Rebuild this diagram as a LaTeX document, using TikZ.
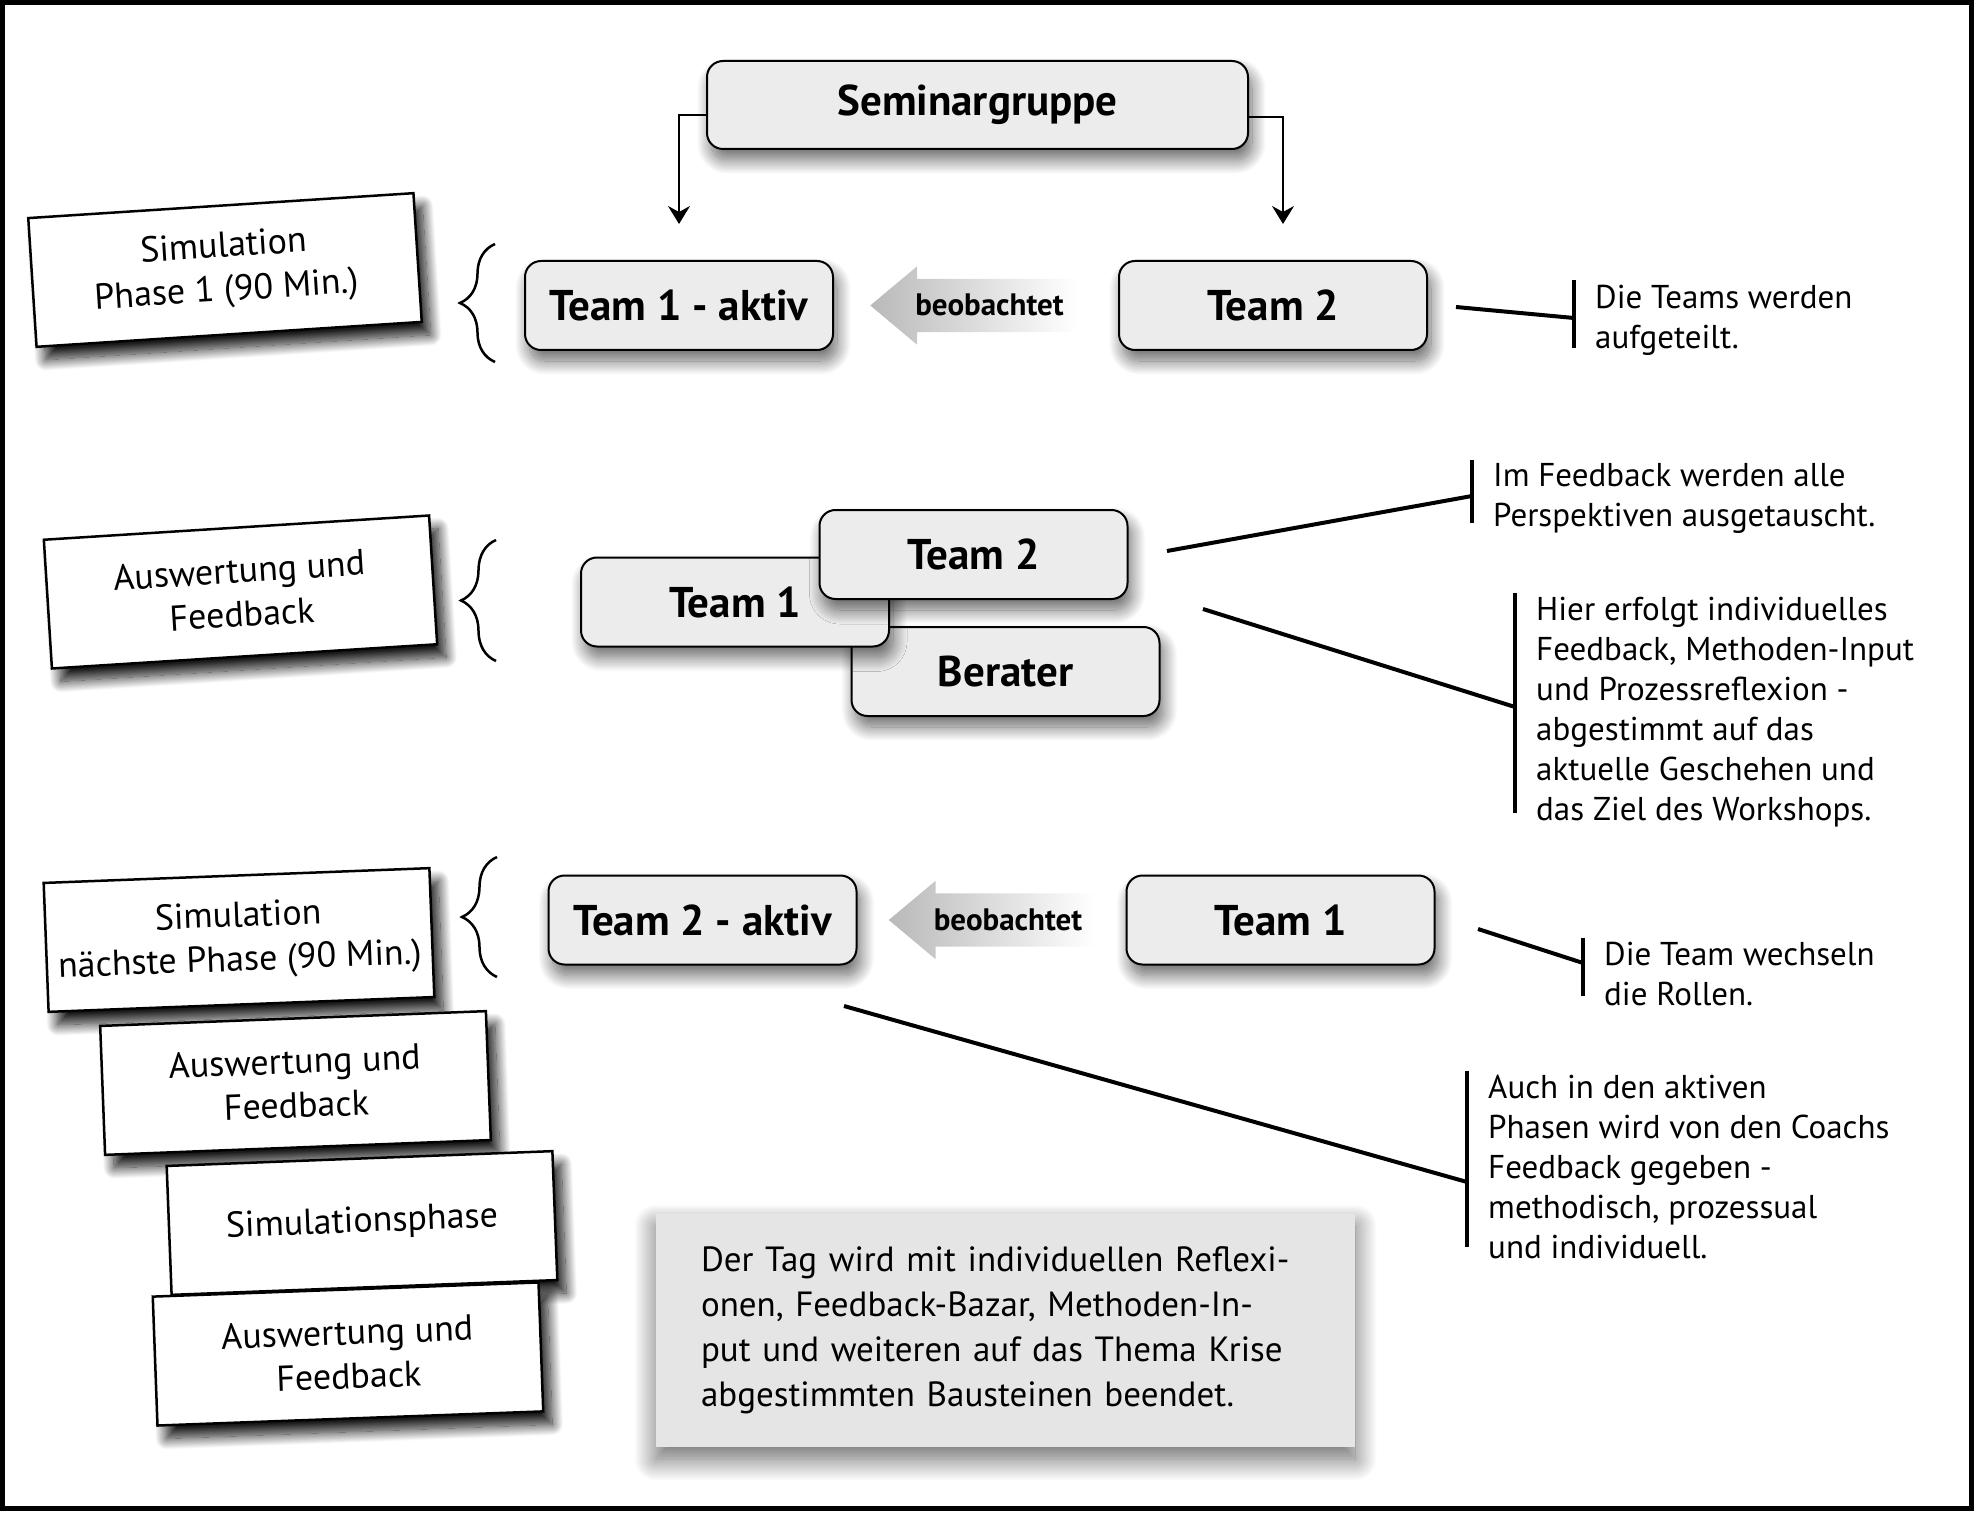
\documentclass[tikz,border=0pt]{standalone}
\usepackage{fontspec}
\setmainfont{PT Sans}
\usepackage{tikz}
\usetikzlibrary{positioning,arrows.meta,shapes.arrows,decorations.pathreplacing,shadows.blur}

\tikzset{
  teambox/.style={draw, line width=2pt, rounded corners=16pt, fill=gray!15,
    minimum width=308pt, minimum height=89pt, inner sep=0pt,
    font=\fontsize{43}{50}\selectfont\bfseries,
    blur shadow={shadow xshift=4pt, shadow yshift=-11pt, shadow blur radius=14pt, shadow opacity=60, shadow blur steps=20}},
  phasebox/.style={draw, line width=2.5pt, fill=white, align=center,
    minimum width=386pt, minimum height=129pt,
    font=\fontsize{36}{44}\selectfont,
    blur shadow={shadow xshift=9pt, shadow yshift=-13pt, shadow blur radius=11pt, shadow opacity=90, shadow blur steps=20}},
  obsarrow/.style={single arrow, shape border rotate=180, single arrow tip angle=80,
    single arrow head extend=12.5pt, left color=gray!55, middle color=gray!45, right color=white,
    inner xsep=13pt, inner ysep=16.5pt, text height=20pt, text depth=0pt,
    font=\fontsize{31}{36}\selectfont\bfseries},
  note/.style={align=left, anchor=north west, inner xsep=21pt, inner ysep=0pt,
    font=\fontsize{33}{40}\selectfont},
  finalbox/.style={fill=gray!20, text width=609pt, inner xsep=45pt, align=left,
    minimum height=233pt, font=\fontsize{35}{45}\selectfont,
    blur shadow={shadow xshift=0pt, shadow yshift=-12pt, shadow blur radius=22pt, shadow opacity=60, shadow blur steps=30}},
  link/.style={line width=4pt},
  bar/.style={line width=3.5pt},
  curly/.style={decorate, decoration={brace, amplitude=35pt}, line width=2.5pt},
}

\begin{document}
\begin{tikzpicture}[x=1pt,y=-1pt]
    \useasboundingbox (0,0) rectangle (1979,1514);
    \draw[line width=5pt] (2.5,2.5) rectangle (1971.5,1508.5);

    % first simulation phase
    \node[teambox, minimum width=541pt, minimum height=88pt] (sem) at (977.5,105) {Seminargruppe};
    \node[teambox] (t1a) at (679,305.5) {Team 1 - aktiv};
    \node[teambox] (t2b) [right=284pt of t1a] {Team 2};
    \node[obsarrow, anchor=tip] (obs1) at ([xshift=36pt]t1a.east) {beobachtet};
    \path[draw, line width=1.5pt, -{Stealth[length=18pt,width=22pt,inset=6pt]}, shorten >=36pt]
        ([yshift=-10pt]sem.west) -| (t1a.north);
    \path[draw, line width=1.5pt, -{Stealth[length=18pt,width=22pt,inset=6pt]}, shorten >=36pt]
        ([yshift=-12pt]sem.east) -| ([xshift=10pt]t2b.north);
    \node[phasebox, rotate=3.7] (sim1) at (225,270) {Simulation\\Phase 1 (90 Min.)};
    \draw[curly] (495,362) -- (495,244);

    % feedback
    \node[teambox] (ber) at (1005.5,671.5) {Berater};
    \node[teambox] (m1) at (735,602) {Team 1};
    \node[teambox] (m2) at (973.5,554.5) {Team 2};
    \node[phasebox, rotate=3.6] (aus1) at (240.5,592) {Auswertung und\\Feedback};
    \draw[curly] (496,661) -- (496,540);

    % next phases
    \node[teambox] (t2a) at (702.5,920) {Team 2 - aktiv};
    \node[teambox] (t1b) [right=268pt of t2a] {Team 1};
    \node[obsarrow, anchor=tip] (obs2) at ([xshift=31pt]t2a.east) {beobachtet};
    \node[phasebox, rotate=2.2] (sim2) at (239,940) {Simulation\\nächste Phase (90 Min.)};
    \draw[curly] (497,977) -- (497,857);
    \node[phasebox, rotate=2.2] (aus2) at (295.5,1083) {Auswertung und\\Feedback};
    \node[phasebox, rotate=2.2] (simp) at (362,1223) {Simulationsphase};
    \node[phasebox, rotate=2.1] (aus3) at (348,1354) {Auswertung und\\Feedback};

    \node[finalbox] (fin) at (1005.5,1330.5) {Der Tag wird mit individuellen Reflexi-\\onen, Feedback-Bazar, Methoden-In-\\put und weiteren auf das Thema Krise\\abgestimmten Bausteinen beendet.};

    % notes
    \node[note] (n1) at (1574,284.5) {Die Teams werden\\aufgeteilt.};
    \node[note] (n2) at (1472,463.5) {Im Feedback werden alle\\Perspektiven ausgetauscht.};
    \node[note] (n3) at (1515,596.5) {Hier erfolgt individuelles\\Feedback, Methoden-Input\\und Prozessreflexion -\\abgestimmt auf das\\aktuelle Geschehen und\\das Ziel des Workshops.};
    \node[note] (n4) at (1583,941.5) {Die Team wechseln\\die Rollen.};
    \node[note] (n5) at (1467,1075) {Auch in den aktiven\\Phasen wird von den Coachs\\Feedback gegeben -\\methodisch, prozessual\\und individuell.};

    \draw[bar] ([yshift=4pt]n1.north west) -- ++(0,68);
    \draw[bar] ([yshift=4pt]n2.north west) -- ++(0,63);
    \draw[bar] ([yshift=4pt]n3.north west) -- ++(0,220);
    \draw[bar] ([yshift=4pt]n4.north west) -- ++(0,58);
    \draw[bar] ([yshift=4pt]n5.north west) -- ++(0,176);

    \coordinate (c1) at (1456,307);
    \coordinate (c2) at (1167,551);
    \coordinate (c3) at (1203,609);
    \coordinate (c4) at (1478,929);
    \coordinate (c5) at (844,1006);
    \draw[link] (c1) -- ([yshift=-33.5pt]n1.north west);
    \draw[link] (c2) -- ([yshift=-32.5pt]n2.north west);
    \draw[link] (c3) -- ([yshift=-110.5pt]n3.north west);
    \draw[link] (c4) -- ([yshift=-21.5pt]n4.north west);
    \draw[link] (c5) -- ([yshift=-107pt]n5.north west);
\end{tikzpicture}
\end{document}
